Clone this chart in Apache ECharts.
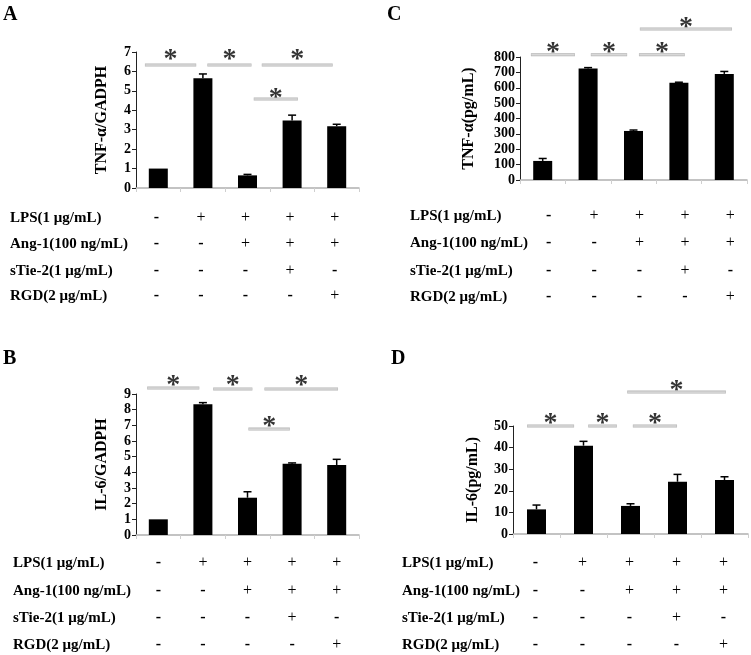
<!DOCTYPE html>
<html><head><meta charset="utf-8">
<script src="https://cdn.jsdelivr.net/npm/echarts@6/dist/echarts.min.js"></script>
<style>html,body{margin:0;padding:0;background:#fff}#c{width:751px;height:655px}</style>
</head><body><div id="c"></div>
<script>
// ---------- data ----------
const groups = ['G1','G2','G3','G4','G5'];
const tnfMrna = [1.0, 5.65, 0.65, 3.48, 3.18];
const tnfMrnaErr = [0, 0.22, 0.05, 0.27, 0.1];
const il6Mrna = [1.0, 8.35, 2.38, 4.55, 4.47];
const il6MrnaErr = [0, 0.1, 0.38, 0.05, 0.36];
const tnfProt = [124, 725, 319, 632, 690];
const tnfProtErr = [16, 6, 6, 4, 16];
const il6Prot = [11.4, 40.9, 13.0, 24.2, 25.0];
const il6ProtErr = [2.0, 2.0, 1.0, 3.4, 1.5];
const yTitles = ['TNF-α/GADPH', 'TNF-α(pg/mL)', 'IL-6/GADPH', 'IL-6(pg/mL)'];
const panelLetters = ['A', 'C', 'B', 'D'];
const yMax = [7, 800, 9, 50];
const yInterval = [1, 100, 1, 10];
// significance brackets: [xStart, xEnd, y] in (category index, value) units
const sigA = [[-0.3, 0.85, 6.33], [1.1, 2.09, 6.33], [2.32, 3.91, 6.33], [2.14, 3.13, 4.58]];
const sigC = [[-0.26, 0.71, 814], [1.06, 1.86, 814], [2.12, 3.13, 814], [2.14, 4.17, 982]];
const sigB = [[-0.25, 0.92, 9.38], [1.23, 2.11, 9.32], [2.38, 4.03, 9.32], [2.02, 2.95, 6.76]];
const sigD = [[-0.2, 0.8, 50], [1.1, 1.71, 50], [2.05, 2.99, 50], [1.93, 4.03, 65.7]];
// treatment table
const rowLabels = ['LPS(1 μg/mL)', 'Ang-1(100 ng/mL)', 'sTie-2(1 μg/mL)', 'RGD(2 μg/mL)'];
const rowLPS = ['-', '+', '+', '+', '+'];
const rowAng = ['-', '-', '+', '+', '+'];
const rowTie = ['-', '-', '-', '+', '-'];
const rowRGD = ['-', '-', '-', '-', '+'];
const tableRows = [rowLPS, rowAng, rowTie, rowRGD];

// ---------- layout ----------
const values = [tnfMrna, tnfProt, il6Mrna, il6Prot];
const errs = [tnfMrnaErr, tnfProtErr, il6MrnaErr, il6ProtErr];
const sigs = [sigA, sigC, sigB, sigD];
const grids = [
  {left: 136, top: 52, right: 392, bottom: 467},
  {left: 520, top: 57, right: 4, bottom: 475},
  {left: 136, top: 394, right: 392, bottom: 120},
  {left: 513, top: 426, right: 3, bottom: 121}
];
const nameGaps = [26, 43, 26, 32];
const starY = [[6.95, 6.95, 6.95, 4.94], [873, 873, 873, 1034], [9.95, 9.95, 9.95, 7.33], [54.2, 54.2, 54.2, 69.4]];
const letterPos = [[3, 5], [387, 5], [3, 349], [391, 349]];
const tableLayout = [
  {labelX: 10, rows: [218, 244, 271, 296], offset: -2},
  {labelX: 410, rows: [216, 243, 271, 297], offset: 6},
  {labelX: 13, rows: [563, 591, 618, 645], offset: 0},
  {labelX: 402, rows: [563, 591, 618, 645], offset: -1}
];
const FONT = '"Liberation Serif", "Times New Roman", serif';

const chart = echarts.init(document.getElementById('c'), null, {renderer: 'canvas'});
const xAxes = [], yAxes = [], series = [];
for (let i = 0; i < 4; i++) {
  xAxes.push({
    type: 'category', gridIndex: i, data: groups, boundaryGap: true,
    axisLine: {onZero: false, lineStyle: {color: '#b0b0b0', width: 1.5}},
    axisTick: {show: true, length: 4, lineStyle: {color: '#cfcfcf'}},
    axisLabel: {show: false}, splitLine: {show: false}
  });
  yAxes.push({
    type: 'value', gridIndex: i, min: 0, max: yMax[i], interval: yInterval[i],
    name: yTitles[i], nameLocation: 'middle', nameGap: nameGaps[i], nameRotate: 90,
    nameTextStyle: {fontFamily: FONT, fontWeight: 'bold', fontSize: 16, color: '#000'},
    axisLine: {show: true, onZero: false, lineStyle: {color: '#222', width: 1}},
    axisTick: {show: true, length: 4, lineStyle: {color: '#222'}},
    axisLabel: {fontFamily: FONT, fontWeight: 'bold', fontSize: 14, color: '#000', margin: 5},
    splitLine: {show: false}
  });
}
for (let i = 0; i < 4; i++) {
  xAxes.push({type: 'value', gridIndex: i, min: -0.5, max: 4.5, show: false});
}
for (let i = 0; i < 4; i++) {
  series.push({
    type: 'bar', xAxisIndex: i, yAxisIndex: i, data: values[i], barWidth: 19,
    itemStyle: {color: '#000'}, silent: true, animation: false
  });
  series.push({
    type: 'custom', xAxisIndex: i, yAxisIndex: i, animation: false, silent: true,
    data: values[i].map((v, k) => [k, v, errs[i][k]]),
    renderItem: function (params, api) {
      const k = api.value(0), v = api.value(1), e = api.value(2);
      if (!e) return null;
      const p0 = api.coord([k, v]);
      const p1 = api.coord([k, v + e]);
      return {type: 'group', children: [
        {type: 'line', shape: {x1: p0[0], y1: p0[1], x2: p1[0], y2: p1[1]}, style: {stroke: '#000', lineWidth: 1.5}},
        {type: 'line', shape: {x1: p1[0] - 4, y1: p1[1], x2: p1[0] + 4, y2: p1[1]}, style: {stroke: '#000', lineWidth: 1.5}}
      ]};
    }
  });
  sigs[i].forEach((s, j) => {
    series.push({
      type: 'line', xAxisIndex: 4 + i, yAxisIndex: i, data: [[s[0], s[2]], [s[1], s[2]]],
      symbol: 'none', clip: false, silent: true, animation: false,
      lineStyle: {color: '#b4b4b4', width: 3}
    });
    series.push({
      type: 'line', xAxisIndex: 4 + i, yAxisIndex: i, data: [[s[0] + 0.01, s[2]], [s[1] - 0.01, s[2]]],
      symbol: 'none', clip: false, silent: true, animation: false,
      lineStyle: {color: '#ececec', width: 1}
    });
    series.push({
      type: 'scatter', xAxisIndex: 4 + i, yAxisIndex: i,
      data: [[(s[0] + s[1]) / 2, starY[i][j]]],
      symbolSize: 1, itemStyle: {color: 'rgba(0,0,0,0)'}, clip: false, silent: true, animation: false,
      label: {show: true, position: 'inside', formatter: '*', fontFamily: FONT, fontWeight: 'bold', fontSize: 28, color: '#000', offset: [0, 7]}
    });
  });
}
chart.setOption({
  animation: false,
  grid: grids,
  xAxis: xAxes, yAxis: yAxes, series: series
});

// panel letters and treatment tables
const graphics = [];
for (let i = 0; i < 4; i++) {
  graphics.push({type: 'text', left: letterPos[i][0], top: letterPos[i][1], silent: true,
    style: {text: panelLetters[i], font: 'bold 20px ' + FONT, fill: '#000'}});
  const tl = tableLayout[i];
  rowLabels.forEach((lab, r) => {
    graphics.push({type: 'text', x: tl.labelX, y: tl.rows[r], silent: true,
      style: {text: lab, font: 'bold 15px ' + FONT, fill: '#000', textVerticalAlign: 'middle'}});
    tableRows[r].forEach((sym, k) => {
      const px = chart.convertToPixel({xAxisIndex: i}, groups[k]);
      graphics.push({type: 'text', x: px + tl.offset, y: tl.rows[r], silent: true,
        style: {text: sym, font: (sym === '-' ? 'bold ' : '') + '16px ' + FONT, fill: '#000', textAlign: 'center', textVerticalAlign: 'middle'}});
    });
  });
}
chart.setOption({graphic: graphics});
</script></body></html>
